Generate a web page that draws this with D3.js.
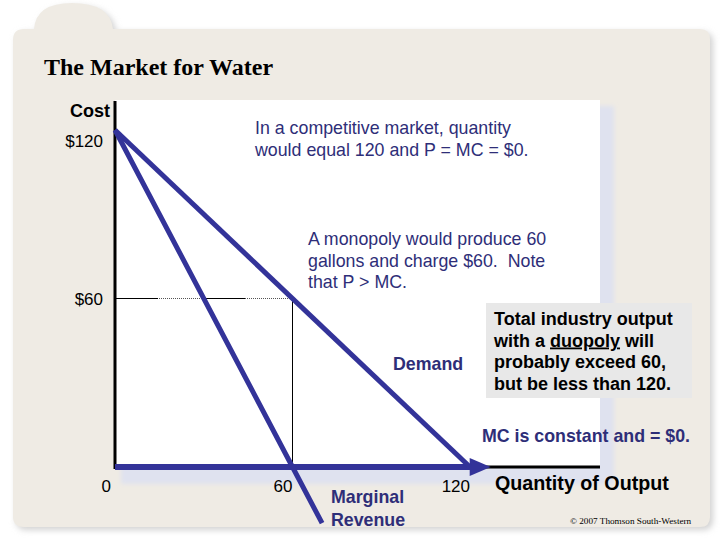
<!DOCTYPE html>
<html>
<head>
<meta charset="utf-8">
<script src="https://cdn.jsdelivr.net/npm/d3@7"></script>
<style>
  body { margin: 0; background: #fff; }
  svg { display: block; }
  text { font-family: Arial, "Liberation Sans", sans-serif; white-space: pre; }
</style>
</head>
<body>
<svg width="720" height="540"></svg>
<script>
// curve data (quantity, price)
const demandQ = [0, 120];
const demandP = [120, 0];
const mrQ = [0, 60, 70];
const mrP = [120, 0, -20];
const mcQ = [0, 127];
const mcP = [0, 0];
const monopolyQ = 60;
const monopolyP = 60;
const xTicks = [0, 60, 120];
const yTicks = [60, 120];
const yTickLabels = ['$60', '$120'];

const blue = '#333399';
const noteBlue = '#2e2e78';

const svg = d3.select('svg');

const x = d3.scaleLinear().domain([0, 120]).range([115, 470]);
const y = d3.scaleLinear().domain([0, 120]).range([467, 130]);

const defs = svg.append('defs');
defs.append('filter').attr('id', 'soft')
  .attr('x', '-10%').attr('y', '-10%').attr('width', '120%').attr('height', '120%')
  .append('feGaussianBlur').attr('stdDeviation', 3);
defs.append('filter').attr('id', 'blur2')
  .append('feGaussianBlur').attr('stdDeviation', 2);

// slide panel with tab
const panelPath = 'M13,40 Q13,29 24,29 L34,29 Q36,3 72,3 Q110,3 113,29 L700,29 Q710,29 710,39 L710,517 Q710,527 700,527 L24,527 Q13,527 13,517 Z';
svg.append('path').attr('d', panelPath)
  .attr('transform', 'translate(3,3)')
  .attr('fill', '#d2d2d2').attr('filter', 'url(#soft)');
svg.append('path').attr('d', panelPath).attr('fill', '#efebe4');

// plot area with shadow
svg.append('rect')
  .attr('x', 121).attr('y', 106).attr('width', 493).attr('height', 378)
  .attr('fill', '#dfe2ef').attr('filter', 'url(#blur2)');
svg.append('rect')
  .attr('x', x(0)).attr('y', 100).attr('width', 600 - x(0)).attr('height', y(0) - 100)
  .attr('fill', '#fff');

// title
svg.append('text')
  .attr('x', 44).attr('y', 75)
  .style('font-family', '"Liberation Serif", "Times New Roman", serif')
  .style('font-weight', 'bold').style('font-size', '24px')
  .text('The Market for Water');

// monopoly guide lines
svg.append('line')
  .attr('x1', x(0)).attr('x2', x(monopolyQ))
  .attr('y1', y(monopolyP)).attr('y2', y(monopolyP))
  .attr('stroke', '#555').attr('stroke-width', 1).attr('stroke-dasharray', '1 1');
svg.append('line')
  .attr('x1', x(0)).attr('x2', x(monopolyQ))
  .attr('y1', y(monopolyP)).attr('y2', y(monopolyP))
  .attr('stroke', '#000').attr('stroke-width', 1).attr('stroke-dasharray', '43 44');
svg.append('line')
  .attr('x1', x(monopolyQ)).attr('x2', x(monopolyQ))
  .attr('y1', y(monopolyP)).attr('y2', y(0))
  .attr('stroke', '#000').attr('stroke-width', 1);

// axes
svg.append('line')
  .attr('x1', x(0)).attr('x2', x(0)).attr('y1', 101).attr('y2', y(0) + 2)
  .attr('stroke', '#000').attr('stroke-width', 3);
svg.append('line')
  .attr('x1', x(0)).attr('x2', 600).attr('y1', y(0)).attr('y2', y(0))
  .attr('stroke', '#000').attr('stroke-width', 3);

const line = d3.line().x(d => x(d[0])).y(d => y(d[1]));

// MC along the axis with arrow
const mcPts = d3.zip(mcQ, mcP);
svg.append('path').attr('d', line([mcPts[0], [mcQ[1] - 5, mcP[1]]]))
  .attr('fill', 'none').attr('stroke', blue).attr('stroke-width', 6);
const tipX = x(mcQ[1]), tipY = y(mcP[1]);
svg.append('path')
  .attr('d', `M${tipX},${tipY} L${tipX - 21},${tipY - 9} L${tipX - 21},${tipY + 9} Z`)
  .attr('fill', blue);

// demand and marginal revenue
svg.append('path').attr('d', line(d3.zip(demandQ, demandP)))
  .attr('fill', 'none').attr('stroke', blue).attr('stroke-width', 5);
svg.append('path').attr('d', line(d3.zip(mrQ, mrP)))
  .attr('fill', 'none').attr('stroke', blue).attr('stroke-width', 5);

// tick labels
svg.selectAll('.xtick').data(xTicks).enter().append('text')
  .attr('class', 'xtick')
  .attr('x', d => x(d) - (d === 0 ? 4 : 0))
  .attr('y', 492)
  .attr('text-anchor', 'end')
  .style('font-size', '17px')
  .text(d => d);
svg.selectAll('.ytick').data(yTicks).enter().append('text')
  .attr('class', 'ytick')
  .attr('x', x(0) - 12)
  .attr('y', d => y(d) + (d === 120 ? 17 : 6))
  .attr('text-anchor', 'end')
  .style('font-size', '17px')
  .text((d, i) => yTickLabels[i]);

svg.append('text')
  .attr('x', 110).attr('y', 117).attr('text-anchor', 'end')
  .style('font-size', '18px').style('font-weight', 'bold')
  .text('Cost');
svg.append('text')
  .attr('x', 495).attr('y', 490)
  .style('font-size', '19.7px').style('font-weight', 'bold')
  .text('Quantity of Output');

// notes
function lines(xPos, yPos, rows, size, weight, color, gap) {
  const t = svg.append('text')
    .attr('x', xPos).attr('y', yPos)
    .style('font-size', size).style('font-weight', weight)
    .attr('fill', color);
  rows.forEach((r, i) => {
    t.append('tspan').attr('x', xPos).attr('y', yPos + i * gap).text(r);
  });
  return t;
}

lines(255, 134, ['In a competitive market, quantity', 'would equal 120 and P = MC = $0.'],
  '17.8px', 'normal', noteBlue, 22);
lines(308, 245, ['A monopoly would produce 60', 'gallons and charge $60.  Note', 'that P > MC.'],
  '17.8px', 'normal', noteBlue, 21.5);

svg.append('rect')
  .attr('x', 486).attr('y', 303).attr('width', 206).attr('height', 95)
  .attr('fill', '#e8e8e8');
const box = svg.append('text')
  .attr('x', 494).attr('y', 325)
  .style('font-size', '18px').style('font-weight', 'bold');
box.append('tspan').attr('x', 494).attr('y', 325).text('Total industry output');
const l2 = box.append('tspan').attr('x', 494).attr('y', 346.5);
l2.append('tspan').text('with a ');
l2.append('tspan').style('text-decoration', 'underline').text('duopoly');
l2.append('tspan').text(' will');
box.append('tspan').attr('x', 494).attr('y', 368).text('probably exceed 60,');
box.append('tspan').attr('x', 494).attr('y', 389.5).text('but be less than 120.');

lines(393, 370, ['Demand'], '17.8px', 'bold', noteBlue, 0);
lines(482, 442, ['MC is constant and = $0.'], '17.8px', 'bold', noteBlue, 0);
lines(331, 503, ['Marginal', 'Revenue'], '17.8px', 'bold', noteBlue, 22.5);

svg.append('text')
  .attr('x', 570).attr('y', 524)
  .style('font-family', '"Liberation Serif", "Times New Roman", serif')
  .style('font-size', '9.2px')
  .text('© 2007 Thomson South-Western');
</script>
</body>
</html>
